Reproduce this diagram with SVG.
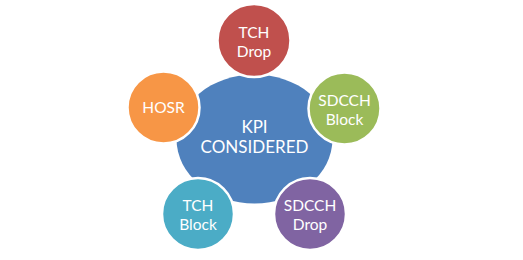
<svg xmlns="http://www.w3.org/2000/svg" width="523" height="260" viewBox="0 0 523 260">
<style>
.sat{stroke:#fff;stroke-width:2.5}
.t{font-family:Lato,"Open Sans","Liberation Sans",sans-serif;fill:#fff;text-anchor:middle}
.s{font-size:15.5px}
.c{font-size:17px}
</style>
<rect width="523" height="260" fill="#fff"/>
<g id="connectors"></g>
<g id="center">
<ellipse cx="254.5" cy="139" rx="78" ry="64.5" fill="#4F81BD"/>
<text class="t c" x="254.5" y="133">KPI</text>
<text class="t c" x="254.5" y="153">CONSIDERED</text>
</g>
<g id="tch-drop">
<circle class="sat" cx="254" cy="40.5" r="36.5" fill="#C0504D"/>
<text class="t s" x="254" y="37.5">TCH</text>
<text class="t s" x="254" y="56.5">Drop</text>
</g>
<g id="sdcch-block">
<circle class="sat" cx="344.5" cy="108.5" r="36" fill="#9BBB59"/>
<text class="t s" x="344.5" y="105.5">SDCCH</text>
<text class="t s" x="344.5" y="124.5">Block</text>
</g>
<g id="hosr">
<circle class="sat" cx="163.5" cy="107.5" r="36" fill="#F79646"/>
<text class="t s" x="163.5" y="113">HOSR</text>
</g>
<g id="tch-block">
<circle class="sat" cx="198" cy="214" r="36" fill="#4BACC6"/>
<text class="t s" x="198" y="211">TCH</text>
<text class="t s" x="198" y="230">Block</text>
</g>
<g id="sdcch-drop">
<circle class="sat" cx="310" cy="214" r="36" fill="#8064A2"/>
<text class="t s" x="310" y="211">SDCCH</text>
<text class="t s" x="310" y="230">Drop</text>
</g>
</svg>
